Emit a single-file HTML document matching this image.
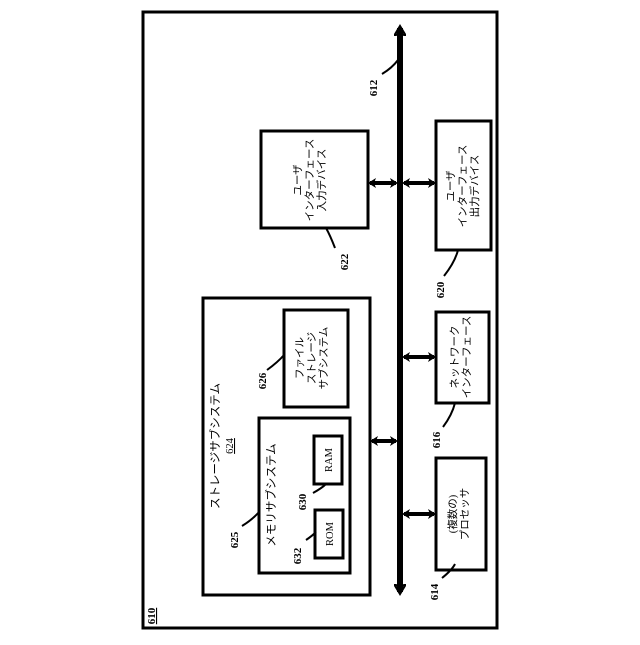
<!DOCTYPE html>
<html><head><meta charset="utf-8"><style>body{margin:0;background:#fff}</style></head><body>
<svg width="640" height="640" xmlns="http://www.w3.org/2000/svg" font-family="'Liberation Serif','Noto Sans CJK JP',serif" font-size="10.5" fill="#000">
<defs>
<marker id="a" markerWidth="8" markerHeight="10" refX="6" refY="5" orient="auto-start-reverse" markerUnits="userSpaceOnUse"><path d="M0,0 L8,5 L0,10 L2,5 Z" fill="#000"/></marker>
<marker id="b" markerWidth="12" markerHeight="12" refX="8" refY="6" orient="auto-start-reverse" markerUnits="userSpaceOnUse"><path d="M0,0 L10,6 L0,12 L3,6 Z" fill="none" stroke="#000" stroke-width="2"/></marker>
</defs>
<g fill="none" stroke="#000" stroke-width="3">
<rect x="143" y="12" width="354" height="616"/>
<rect x="261" y="131" width="107" height="97"/>
<rect x="436" y="121" width="55" height="129"/>
<rect x="203" y="298" width="167" height="297"/>
<rect x="284" y="310" width="64" height="97"/>
<rect x="259" y="418" width="91" height="155"/>
<rect x="314" y="436" width="28" height="48"/>
<rect x="315" y="510" width="28" height="48"/>
<rect x="436" y="312" width="53" height="91"/>
<rect x="436" y="458" width="50" height="112"/>
</g>
<g stroke="#000" fill="none">
<line x1="400" y1="28" x2="400" y2="592" stroke-width="6" marker-start="url(#b)" marker-end="url(#b)"/>
<line x1="370" y1="183" x2="396" y2="183" stroke-width="4" marker-start="url(#a)" marker-end="url(#a)"/>
<line x1="404" y1="183" x2="434" y2="183" stroke-width="4" marker-start="url(#a)" marker-end="url(#a)"/>
<line x1="404" y1="357" x2="434" y2="357" stroke-width="4" marker-start="url(#a)" marker-end="url(#a)"/>
<line x1="372" y1="441" x2="396" y2="441" stroke-width="4" marker-start="url(#a)" marker-end="url(#a)"/>
<line x1="404" y1="514" x2="434" y2="514" stroke-width="4" marker-start="url(#a)" marker-end="url(#a)"/>
</g>
<g stroke="#000" stroke-width="2" fill="none">
<path d="M382,74 Q392,68 398,60"/>
<path d="M335,248 Q330,235 326,228"/>
<path d="M444,276 Q455,262 458,250"/>
<path d="M267,370 Q278,362 284,355"/>
<path d="M242,526 Q252,520 259,512"/>
<path d="M313,493 Q322,488 326,484"/>
<path d="M306,540 Q312,536 316,532"/>
<path d="M443,427 Q452,415 455,403"/>
<path d="M442,578 Q452,570 455,564"/>
</g>
<g text-anchor="middle">
<text transform="translate(301,180) rotate(-90)">ユーザ</text>
<text transform="translate(313,180) rotate(-90)">インターフェース</text>
<text transform="translate(325,180) rotate(-90)">入力デバイス</text>
<text transform="translate(454,186) rotate(-90)">ユーザ</text>
<text transform="translate(466,186) rotate(-90)">インターフェース</text>
<text transform="translate(478,186) rotate(-90)">出力デバイス</text>
<text transform="translate(303,358) rotate(-90)">ファイル</text>
<text transform="translate(315,358) rotate(-90)">ストレージ</text>
<text transform="translate(327,358) rotate(-90)">サブシステム</text>
<text transform="translate(219,446) rotate(-90)" font-size="11.5">ストレージサブシステム</text>
<text transform="translate(233,446) rotate(-90)" text-decoration="underline">624</text>
<text transform="translate(275,495) rotate(-90)" font-size="11.5">メモリサブシステム</text>
<text transform="translate(332,460) rotate(-90)">RAM</text>
<text transform="translate(333,534) rotate(-90)">ROM</text>
<text transform="translate(458,357) rotate(-90)">ネットワーク</text>
<text transform="translate(470,357) rotate(-90)">インターフェース</text>
<text transform="translate(456,514) rotate(-90)">(複数の)</text>
<text transform="translate(468,514) rotate(-90)">プロセッサ</text>
<g font-weight="bold" font-size="11">
<text transform="translate(377,88) rotate(-90)">612</text>
<text transform="translate(348,262) rotate(-90)">622</text>
<text transform="translate(444,290) rotate(-90)">620</text>
<text transform="translate(266,381) rotate(-90)">626</text>
<text transform="translate(238,540) rotate(-90)">625</text>
<text transform="translate(306,502) rotate(-90)">630</text>
<text transform="translate(301,556) rotate(-90)">632</text>
<text transform="translate(440,440) rotate(-90)">616</text>
<text transform="translate(438,592) rotate(-90)">614</text>
<text transform="translate(155,616) rotate(-90)" text-decoration="underline">610</text>
</g>
</g>
</svg>
</body></html>
